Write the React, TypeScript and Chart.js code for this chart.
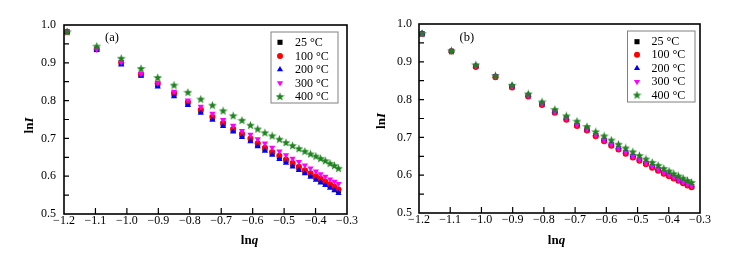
import React, { useEffect, useRef } from 'react';
import { Chart, registerables } from 'chart.js';
import { drawPoint } from 'chart.js/helpers';

Chart.register(...registerables);

// ---------- data ----------
const lnq = [
  -1.19, -1.096, -1.018, -0.955, -0.902, -0.85, -0.806, -0.765, -0.728, -0.694,
  -0.662, -0.634, -0.607, -0.584, -0.561, -0.538, -0.515, -0.494, -0.473, -0.453,
  -0.434, -0.416, -0.399, -0.384, -0.369, -0.354, -0.34, -0.327,
];

const seriesLabels = ['25 °C', '100 °C', '200 °C', '300 °C', '400 °C'];

// panel (a)
const a25 = [
  0.982, 0.935, 0.899, 0.868, 0.842, 0.817, 0.793, 0.773, 0.754, 0.738,
  0.722, 0.709, 0.697, 0.684, 0.672, 0.661, 0.651, 0.641, 0.632, 0.622,
  0.613, 0.605, 0.597, 0.59, 0.583, 0.576, 0.569, 0.562,
];
const a100 = [
  0.982, 0.936, 0.901, 0.87, 0.845, 0.82, 0.796, 0.776, 0.757, 0.741,
  0.725, 0.712, 0.7, 0.687, 0.675, 0.664, 0.654, 0.644, 0.635, 0.625,
  0.616, 0.608, 0.6, 0.593, 0.586, 0.579, 0.572, 0.565,
];
const a200 = [
  0.981, 0.934, 0.895, 0.865, 0.837, 0.811, 0.788, 0.767, 0.749, 0.732,
  0.718, 0.703, 0.692, 0.679, 0.667, 0.656, 0.645, 0.635, 0.625, 0.616,
  0.607, 0.598, 0.59, 0.583, 0.576, 0.569, 0.562, 0.555,
];
const a300 = [
  0.982, 0.936, 0.902, 0.871, 0.847, 0.824, 0.801, 0.784, 0.766, 0.749,
  0.734, 0.72, 0.71, 0.698, 0.687, 0.676, 0.666, 0.656, 0.647, 0.638,
  0.629, 0.621, 0.613, 0.606, 0.599, 0.592, 0.586, 0.58,
];
const a400 = [
  0.982, 0.944, 0.912, 0.885, 0.861, 0.841, 0.822, 0.804, 0.788, 0.773,
  0.76, 0.748, 0.735, 0.725, 0.715, 0.707, 0.698, 0.689, 0.681, 0.673,
  0.666, 0.659, 0.653, 0.647, 0.641, 0.634, 0.628, 0.621,
];

// panel (b)
const b25 = [
  0.974, 0.928, 0.888, 0.861, 0.834, 0.81, 0.788, 0.767, 0.749, 0.732,
  0.72, 0.705, 0.692, 0.68, 0.67, 0.659, 0.649, 0.64, 0.631, 0.622,
  0.614, 0.606, 0.599, 0.593, 0.587, 0.581, 0.575, 0.57,
];
const b100 = [
  0.974, 0.927, 0.886, 0.859, 0.832, 0.808, 0.786, 0.765, 0.747, 0.73,
  0.718, 0.703, 0.69, 0.678, 0.668, 0.657, 0.647, 0.638, 0.629, 0.62,
  0.612, 0.604, 0.597, 0.591, 0.585, 0.579, 0.573, 0.568,
];
const b200 = [
  0.975, 0.929, 0.89, 0.863, 0.837, 0.813, 0.791, 0.77, 0.752, 0.736,
  0.724, 0.709, 0.696, 0.684, 0.674, 0.663, 0.653, 0.644, 0.635, 0.626,
  0.618, 0.61, 0.603, 0.597, 0.591, 0.585, 0.579, 0.574,
];
const b300 = [
  0.974, 0.928, 0.889, 0.862, 0.835, 0.811, 0.789, 0.768, 0.75, 0.733,
  0.721, 0.706, 0.693, 0.681, 0.671, 0.66, 0.65, 0.641, 0.632, 0.623,
  0.615, 0.607, 0.6, 0.594, 0.588, 0.582, 0.576, 0.571,
];
const b400 = [
  0.975, 0.929, 0.892, 0.863, 0.838, 0.815, 0.794, 0.774, 0.757, 0.743,
  0.729, 0.715, 0.704, 0.693, 0.682, 0.672, 0.662, 0.652, 0.643, 0.634,
  0.626, 0.618, 0.611, 0.604, 0.598, 0.592, 0.586, 0.581,
];

const xRange = [-1.2, -0.3];
const yRange = [0.5, 1.0];

// ---------- styling helpers ----------
const FONT = '"Liberation Serif", "Times New Roman", serif';

function makeStar(color: string): HTMLCanvasElement {
  const c = document.createElement('canvas');
  c.width = 9;
  c.height = 9;
  const g = c.getContext('2d')!;
  g.fillStyle = color;
  g.beginPath();
  for (let i = 0; i < 10; i++) {
    const r = i % 2 === 0 ? 4.6 : 1.9;
    const a = -Math.PI / 2 + (i * Math.PI) / 5;
    const x = 4.5 + r * Math.cos(a);
    const y = 4.9 + r * Math.sin(a);
    if (i === 0) g.moveTo(x, y);
    else g.lineTo(x, y);
  }
  g.closePath();
  g.fill();
  return c;
}

type Part = { text: string; font: string };

function drawRich(ctx: CanvasRenderingContext2D, parts: Part[], cx: number, cy: number) {
  let total = 0;
  const widths = parts.map((p) => {
    ctx.font = p.font;
    const w = ctx.measureText(p.text).width;
    total += w;
    return w;
  });
  let x = cx - total / 2;
  ctx.textBaseline = 'middle';
  ctx.textAlign = 'left';
  parts.forEach((p, i) => {
    ctx.font = p.font;
    ctx.fillText(p.text, x, cy);
    x += widths[i];
  });
}

const fmt = (v: number) => (v < 0 ? '\u2212' : '') + Math.abs(v).toFixed(1);

type Geometry = {
  width: number;
  left: number;
  right: number;
  top: number;
  bottom: number;
  yLabelPad: number;
  yTitle: [number, number];
  xTitle: [number, number];
  panel: [number, number];
  legendBox: [number, number, number, number];
  legendMarkerX: number;
  legendTextX: number;
  legendRowY: number[];
};

type PanelProps = {
  values: number[][];
  panelLabel: string;
  geo: Geometry;
};

const HEIGHT = 255;

function Panel({ values, panelLabel, geo }: PanelProps) {
  const ref = useRef<HTMLCanvasElement | null>(null);

  useEffect(() => {
    const canvas = ref.current!;
    const star = makeStar('#1d821d');
    const styles: any[] = [
      { pointStyle: 'rect', radius: 3.6, rotation: 0, color: '#000000' },
      { pointStyle: 'circle', radius: 3, rotation: 0, color: '#ff0000' },
      { pointStyle: 'triangle', radius: 3.6, rotation: 0, color: '#0000ff' },
      { pointStyle: 'triangle', radius: 3.6, rotation: 180, color: '#ff00ff' },
      { pointStyle: star, radius: 4.5, rotation: 0, color: '#1d821d' },
    ];

    const datasets = values.map((vals, i) => ({
      label: seriesLabels[i],
      data: lnq.map((x, k) => ({ x, y: vals[k] })),
      pointStyle: styles[i].pointStyle,
      pointRadius: styles[i].radius,
      pointRotation: styles[i].rotation,
      backgroundColor: styles[i].color,
      borderColor: styles[i].color,
      pointBorderWidth: 0,
      borderWidth: 0,
      showLine: false,
      order: values.length - 1 - i,
    }));

    const decor = {
      id: 'decor',
      afterDraw(chart: any) {
        const ctx: CanvasRenderingContext2D = chart.ctx;
        const { left, right, top, bottom } = chart.chartArea;
        const xs = chart.scales.x;
        const ys = chart.scales.y;
        ctx.save();
        ctx.strokeStyle = '#000';
        ctx.lineWidth = 1.6;
        ctx.strokeRect(left, top, right - left, bottom - top);

        // inward ticks
        ctx.lineWidth = 1.2;
        ctx.beginPath();
        xs.ticks.forEach((t: any) => {
          const px = xs.getPixelForValue(t.value);
          if (px <= left + 1 || px >= right - 1) return;
          ctx.moveTo(px, bottom);
          ctx.lineTo(px, bottom - 6);
        });
        const yt = ys.ticks.map((t: any) => t.value);
        const yAll: number[] = [];
        for (let i = 0; i < yt.length; i++) {
          yAll.push(yt[i]);
          if (i < yt.length - 1) yAll.push((yt[i] + yt[i + 1]) / 2);
        }
        yAll.forEach((v) => {
          const py = ys.getPixelForValue(v);
          if (py <= top + 1 || py >= bottom - 1) return;
          ctx.moveTo(left, py);
          ctx.lineTo(left + 5, py);
        });
        ctx.stroke();

        ctx.fillStyle = '#000';
        // axis titles
        drawRich(
          ctx,
          [
            { text: 'ln', font: `bold 13px ${FONT}` },
            { text: 'q', font: `italic bold 13px ${FONT}` },
          ],
          geo.xTitle[0],
          geo.xTitle[1]
        );
        ctx.save();
        ctx.translate(geo.yTitle[0], geo.yTitle[1]);
        ctx.rotate(-Math.PI / 2);
        drawRich(
          ctx,
          [
            { text: 'ln', font: `bold 13px ${FONT}` },
            { text: 'I', font: `italic bold 13px ${FONT}` },
          ],
          0,
          0
        );
        ctx.restore();

        // panel label
        ctx.font = `12.5px ${FONT}`;
        ctx.textAlign = 'left';
        ctx.textBaseline = 'middle';
        ctx.fillText(panelLabel, geo.panel[0], geo.panel[1]);

        // legend
        const [lx0, ly0, lx1, ly1] = geo.legendBox;
        ctx.fillStyle = '#fff';
        ctx.fillRect(lx0, ly0, lx1 - lx0, ly1 - ly0);
        ctx.strokeStyle = '#808080';
        ctx.lineWidth = 1;
        ctx.strokeRect(lx0 + 0.5, ly0 + 0.5, lx1 - lx0, ly1 - ly0);
        chart.data.datasets.forEach((ds: any, i: number) => {
          const y = geo.legendRowY[i];
          ctx.fillStyle = ds.backgroundColor;
          ctx.strokeStyle = ds.borderColor;
          drawPoint(
            ctx,
            {
              pointStyle: ds.pointStyle,
              radius: ds.pointRadius,
              rotation: ds.pointRotation,
              borderWidth: 0,
            } as any,
            geo.legendMarkerX,
            y
          );
          ctx.fillStyle = '#000';
          ctx.font = `12px ${FONT}`;
          ctx.textAlign = 'left';
          ctx.textBaseline = 'middle';
          ctx.fillText(ds.label, geo.legendTextX, y + 0.5);
        });
        ctx.restore();
      },
    };

    const tickFont = { family: FONT, size: 12 };
    const chart = new Chart(canvas, {
      type: 'scatter',
      data: { datasets },
      options: {
        animation: false,
        responsive: false,
        events: [],
        layout: {
          padding: { left: 0, top: geo.top, right: geo.width - geo.right, bottom: 0 },
        },
        plugins: {
          legend: { display: false },
          tooltip: { enabled: false },
        },
        scales: {
          x: {
            type: 'linear',
            min: xRange[0],
            max: xRange[1],
            grid: { display: false, drawTicks: false },
            border: { display: false },
            ticks: {
              stepSize: 0.1,
              autoSkip: false,
              maxRotation: 0,
              padding: 0,
              color: '#000',
              font: tickFont,
              callback: (v: any) => fmt(Number(v)),
            },
            afterFit: (s: any) => {
              s.height = HEIGHT - geo.bottom;
            },
          },
          y: {
            type: 'linear',
            min: yRange[0],
            max: yRange[1],
            grid: { display: false, drawTicks: false },
            border: { display: false },
            ticks: {
              stepSize: 0.1,
              padding: geo.yLabelPad,
              color: '#000',
              font: tickFont,
              callback: (v: any) => Number(v).toFixed(1),
            },
            afterFit: (s: any) => {
              s.width = geo.left;
            },
          },
        },
      },
      plugins: [decor],
    } as any);
    return () => chart.destroy();
  }, [values, panelLabel, geo]);

  return (
    <canvas
      ref={ref}
      width={geo.width}
      height={HEIGHT}
      style={{ width: geo.width, height: HEIGHT, display: 'block' }}
    />
  );
}

const geoA: Geometry = {
  width: 372,
  left: 64,
  right: 347,
  top: 25,
  bottom: 214,
  yLabelPad: 8,
  yTitle: [29.5, 125.5],
  xTitle: [249.5, 240.5],
  panel: [105, 37.5],
  legendBox: [270.5, 31.5, 337.5, 102.5],
  legendMarkerX: 280,
  legendTextX: 295,
  legendRowY: [42.3, 56, 69.5, 83, 96.5],
};

const geoB: Geometry = {
  width: 373,
  left: 47,
  right: 328,
  top: 24,
  bottom: 213,
  yLabelPad: 7,
  yTitle: [9.5, 121],
  xTitle: [184.5, 241],
  panel: [87.5, 37.5],
  legendBox: [255, 30.5, 322.5, 101.5],
  legendMarkerX: 265,
  legendTextX: 279.5,
  legendRowY: [41.7, 54.8, 68.3, 81.7, 95],
};

const valuesA = [a25, a100, a200, a300, a400];
const valuesB = [b25, b100, b200, b300, b400];

export default function App() {
  return (
    <div
      style={{
        position: 'fixed',
        left: 0,
        top: 0,
        width: 745,
        height: 255,
        background: '#fff',
        display: 'flex',
      }}
    >
      <Panel values={valuesA} panelLabel="(a)" geo={geoA} />
      <Panel values={valuesB} panelLabel="(b)" geo={geoB} />
    </div>
  );
}
